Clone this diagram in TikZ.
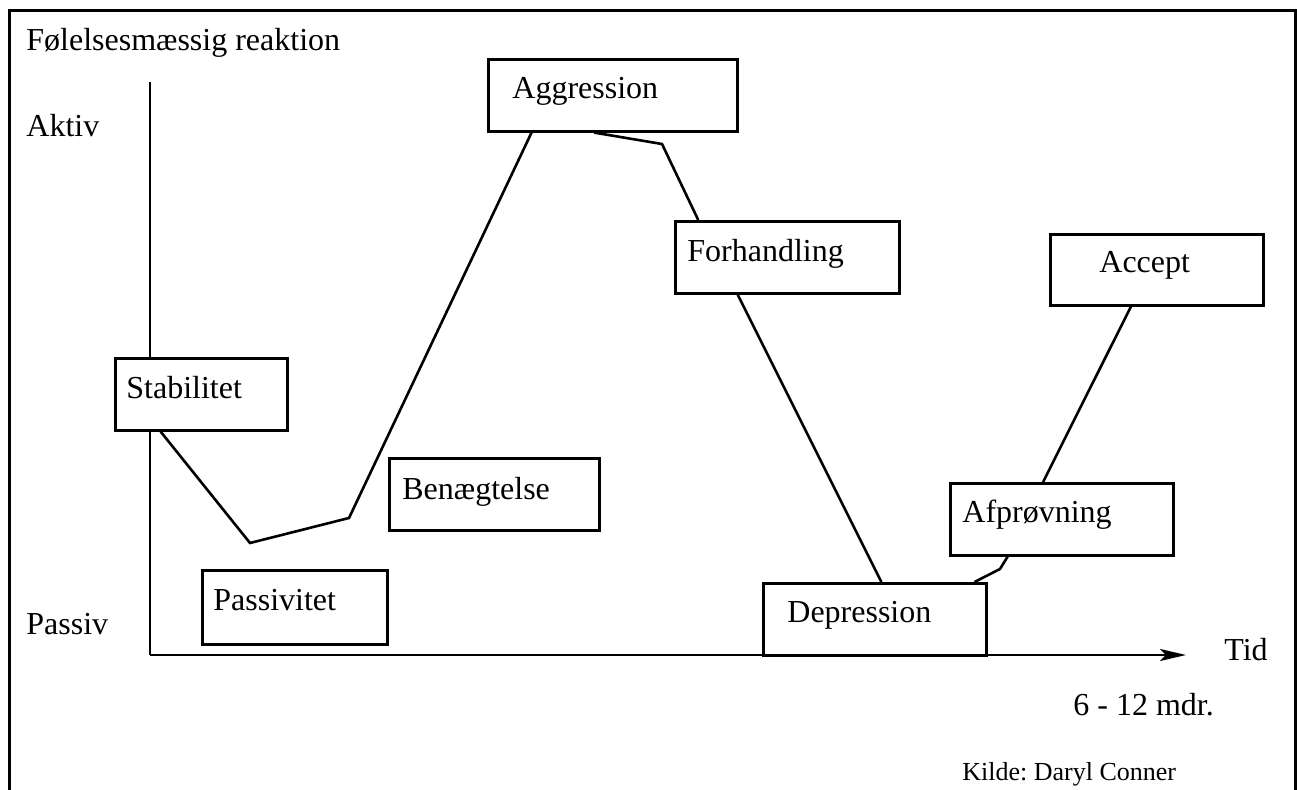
\documentclass[tikz,border=0pt]{standalone}
\usepackage{fontspec}
\setmainfont{Liberation Serif}
\usetikzlibrary{arrows.meta,calc}
\frenchspacing
\begin{document}
\begin{tikzpicture}[x=0.5pt,y=-0.5pt,
  stagebox/.style={draw, line width=1.3pt, fill=white, inner sep=0pt, anchor=north west},
  lbl/.style={inner sep=0pt, anchor=base west, font=\fontsize{16}{19}\selectfont},
  small/.style={inner sep=0pt, anchor=base west, font=\fontsize{13}{15}\selectfont},
  curve/.style={line width=1.3pt, line join=miter},
  axis/.style={line width=1.3pt}
]
\useasboundingbox (0,0) rectangle (1297,790);
% frame
\draw[line width=1.5pt] (9,790) -- (9,11) -- (1295,11) -- (1295,790);

% axes
\coordinate (ytop) at (150,82);
\coordinate (origin) at (150,655);
\coordinate (xend) at (1186,655);
\draw[axis] (ytop) -- (origin);
\draw[axis, -{Stealth[length=13pt,width=6pt,inset=3pt]}] (origin) -- (xend);

% boxes
\node[stagebox, minimum width=86pt, minimum height=36pt] (stab) at (114,357) {};
\node[stagebox, minimum width=92.5pt, minimum height=37pt] (pass) at (201,569) {};
\node[stagebox, minimum width=105pt, minimum height=36pt] (bena) at (388,457) {};
\node[stagebox, minimum width=124.5pt, minimum height=36pt] (aggr) at (487,58) {};
\node[stagebox, minimum width=112pt, minimum height=36pt] (forh) at (674,220) {};
\node[stagebox, minimum width=111.5pt, minimum height=36pt] (depr) at (762,582) {};
\node[stagebox, minimum width=111.5pt, minimum height=36pt] (afpr) at (949,482) {};
\node[stagebox, minimum width=106.5pt, minimum height=35.5pt] (acc) at (1049,233) {};

% box labels
\node[lbl] (stabt) at (126,399) {Stabilitet};
\node[lbl] (passt) at (213,611) {Passivitet};
\node[lbl] (benat) at (402,500) {Benægtelse};
\node[lbl] (aggrt) at (512,99) {Aggression};
\node[lbl] (forht) at (687,262) {Forhandling};
\node[lbl] (deprt) at (787,623) {Depression};
\node[lbl] (afprt) at (962,523) {Afprøvning};
\node[lbl] (acct) at (1099,273) {Accept};

% bends
\coordinate (b1) at (250,543);
\coordinate (b2) at (349,518);
\coordinate (b3) at (662,144);
\coordinate (b4) at (1000,569);

% connectors
\draw[curve] ($(stab.south west)!0.267!(stab.south east)$) -- (b1) -- (b2) -- ($(aggr.south west)!0.177!(aggr.south east)$);
\draw[curve] ($(aggr.south west)!0.426!(aggr.south east)$) -- (b3) -- ($(forh.north west)!0.107!(forh.north east)$);
\draw[curve] ($(forh.south west)!0.281!(forh.south east)$) -- ($(depr.north west)!0.529!(depr.north east)$);
\draw[curve] ($(depr.north west)!0.942!(depr.north east)$) -- (b4) -- ($(afpr.south west)!0.26!(afpr.south east)$);
\draw[curve] ($(afpr.north west)!0.417!(afpr.north east)$) -- ($(acc.south west)!0.38!(acc.south east)$);

% axis texts
\node[lbl] (head) at (26,51) {Følelsesmæssig reaktion};
\node[lbl] (aktiv) at (26,137) {Aktiv};
\node[lbl] (passiv) at (26,635) {Passiv};
\node[lbl] (tid) at (1224,661) {Tid};
\node[lbl] (mdr) at (1073,716) {6 - 12 mdr.};
\node[small] (kilde) at (962,781) {Kilde: Daryl Conner};
\end{tikzpicture}
\end{document}
